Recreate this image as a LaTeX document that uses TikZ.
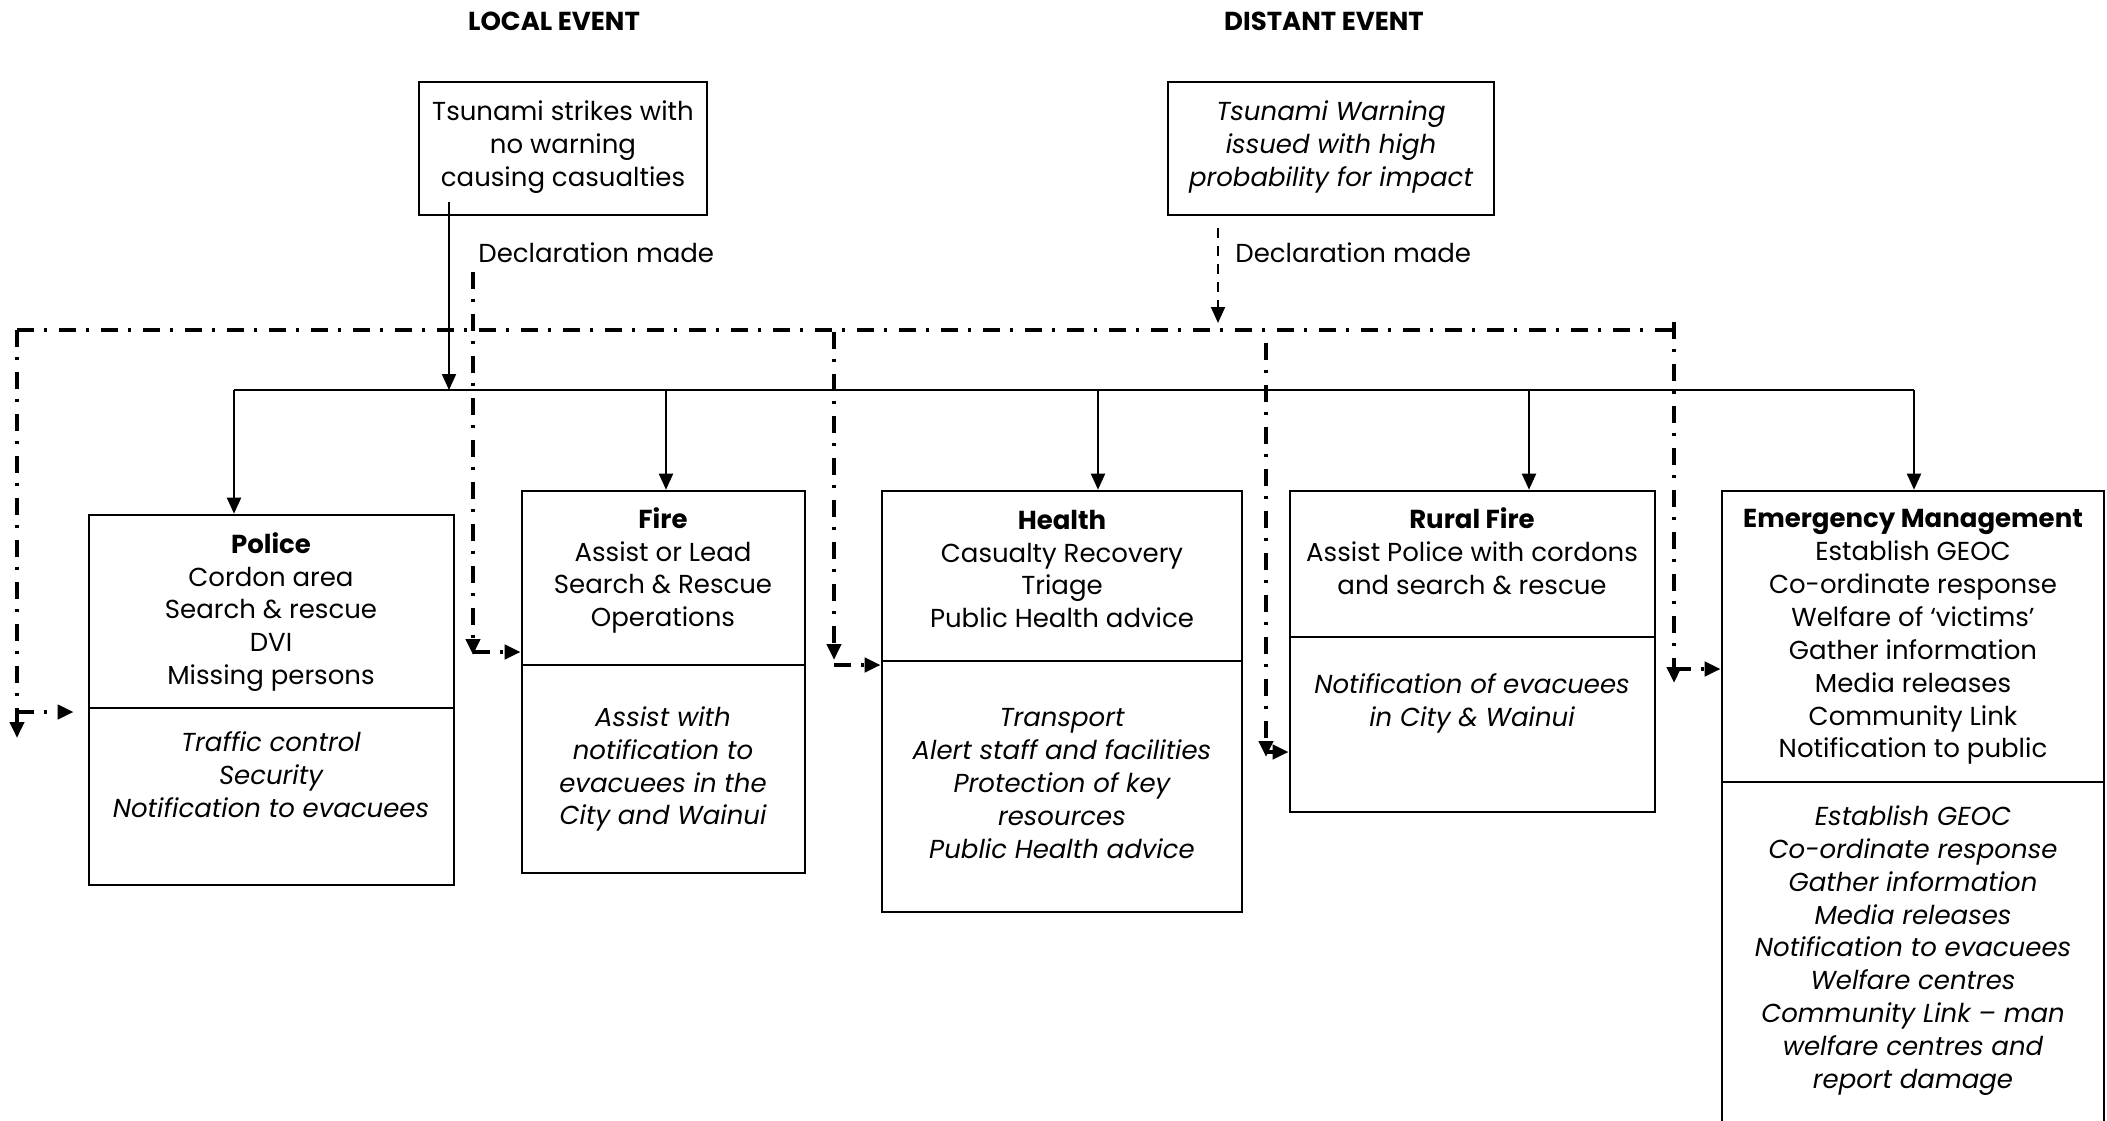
\documentclass[tikz,border=0pt]{standalone}
\usepackage{fontspec}
\setmainfont{Poppins}
\usetikzlibrary{arrows.meta,fit}
\begin{document}
\begin{tikzpicture}[x=0.5pt,y=-0.5pt,
  box/.style={draw, line width=1.3pt, inner sep=0pt},
  body/.style={font=\fontsize{13}{16.45}\selectfont, align=center, inner sep=0pt},
  ital/.style={body, font=\fontsize{13}{16.45}\selectfont\itshape},
  head/.style={font=\fontsize{13}{15}\selectfont\bfseries, inner sep=0pt},
  conn/.style={line width=1pt},
  arr/.style={conn, -{Triangle[length=8pt,width=7pt]}},
  dd/.style={line width=2pt, dash pattern=on 8.5pt off 5pt on 1.5pt off 6pt},
  ddarr/.style={dd, -{Triangle[length=8pt,width=7pt]}},
  dsh/.style={line width=1pt, dash pattern=on 5pt off 4pt, -{Triangle[length=8pt,width=7pt]}}
]
\useasboundingbox (0,0) rectangle (2107,1120);

% headings
\node[head] (hlocal) at (554,21) {LOCAL EVENT};
\node[head] (hdist) at (1324,21) {DISTANT EVENT};

% event boxes
\node[box, fit={(419,82)(707,215)}] (local) {};
\node[body] (localtxt) at (563,147) {Tsunami strikes with\\no warning\\causing casualties};
\node[box, fit={(1168,82)(1494,215)}] (distant) {};
\node[ital] (disttxt) at (1331,147) {Tsunami Warning\\issued with high\\probability for impact};

\node[body, anchor=west] (decl1) at (478,253) {Declaration made};
\node[body, anchor=west] (decl2) at (1235,253) {Declaration made};

% agency boxes
\node[box, fit={(89,515)(454,708)}] (policeT) {};
\node[box, fit={(89,708)(454,885)}] (policeB) {};
\node[body] (policeTtxt) at (271,612) {\textbf{Police}\\Cordon area\\Search \& rescue\\DVI\\Missing persons};
\node[ital] (policeBtxt) at (271,775) {Traffic control\\Security\\Notification to evacuees};

\node[box, fit={(522,491)(805,665)}] (fireT) {};
\node[box, fit={(522,665)(805,873)}] (fireB) {};
\node[body] (fireTtxt) at (663,570.5) {\textbf{Fire}\\Assist or Lead\\Search \& Rescue\\Operations};
\node[ital] (fireBtxt) at (663,769) {Assist with\\notification to\\evacuees in the\\City and Wainui};

\node[box, fit={(882,491)(1242,661)}] (healthT) {};
\node[box, fit={(882,661)(1242,912)}] (healthB) {};
\node[body] (healthTtxt) at (1062,569) {\textbf{Health}\\Casualty Recovery\\Triage\\Public Health advice};
\node[ital] (healthBtxt) at (1062,783.5) {Transport\\Alert staff and facilities\\Protection of key\\resources\\Public Health advice};

\node[box, fit={(1290,491)(1655,637)}] (ruralT) {};
\node[box, fit={(1290,637)(1655,812)}] (ruralB) {};
\node[body] (ruralTtxt) at (1472,551) {\textbf{Rural Fire}\\Assist Police with cordons\\and search \& rescue};
\node[ital] (ruralBtxt) at (1472,703) {Notification of evacuees\\in City \& Wainui};

\node[box, fit={(1722,491)(2104,782)}] (emT) {};
\node[box, fit={(1722,782)(2104,1126)}] (emB) {};
\node[body] (emTtxt) at (1913,637) {\textbf{Emergency Management}\\Establish GEOC\\Co-ordinate response\\Welfare of ‘victims’\\Gather information\\Media releases\\Community Link\\Notification to public};
\node[ital] (emBtxt) at (1913,950.5) {Establish GEOC\\Co-ordinate response\\Gather information\\Media releases\\Notification to evacuees\\Welfare centres\\Community Link – man\\welfare centres and\\report damage};

% solid bus
\coordinate (lstart) at (449,202);
\coordinate (bus0) at (449,390);
\coordinate (busL) at (234,390);
\coordinate (busF) at (666,390);
\coordinate (busH) at (1098,390);
\coordinate (busR) at (1529,390);
\coordinate (busE) at (1914,390);
\draw[conn] (busL) -- (busE);
\draw[arr] (lstart) -- (bus0);
\draw[arr] (busL) -- (busL |- policeT.north);
\draw[arr] (busF) -- (busF |- fireT.north);
\draw[arr] (busH) -- (busH |- healthT.north);
\draw[arr] (busR) -- (busR |- ruralT.north);
\draw[arr] (busE) -- (busE |- emT.north);

% dash-dot distribution
\coordinate (ddL) at (17,330);
\coordinate (ddR) at (1674,330);
\draw[dd] (ddL) -- (ddR);
\coordinate (ddLend) at (17,738);
\coordinate (ddLb) at (17,712);
\draw[ddarr] (ddL) -- (ddLend);
\draw[ddarr, shorten >=7pt] (ddLb) -- (ddLb -| policeT.west);

\coordinate (ld1) at (473,272);
\coordinate (ld2) at (473,655);
\coordinate (ld3) at (473,652);
\draw[ddarr] (ld1) -- (ld2);
\draw[ddarr] (ld3) -- (ld3 -| fireT.west);

\coordinate (hd1) at (834,332);
\coordinate (hd2) at (834,660);
\coordinate (hd3) at (834,665);
\draw[ddarr] (hd1) -- (hd2);
\draw[ddarr] (hd3) -- (hd3 -| healthT.west);

\coordinate (rd1) at (1266,343);
\coordinate (rd2) at (1266,757);
\coordinate (rd3) at (1266,752);
\draw[ddarr] (rd1) -- (rd2);
\draw[ddarr] (rd3) -- (rd3 -| ruralB.west);

\coordinate (ed1) at (1674,322);
\coordinate (ed2) at (1674,683);
\coordinate (ed3) at (1674,669);
\draw[ddarr] (ed1) -- (ed2);
\draw[ddarr] (ed3) -- (ed3 -| emT.west);

% distant declaration
\coordinate (dd1) at (1218,228);
\draw[dsh, shorten >=3.5pt] (dd1) -- (dd1 |- ddL);
\end{tikzpicture}
\end{document}
